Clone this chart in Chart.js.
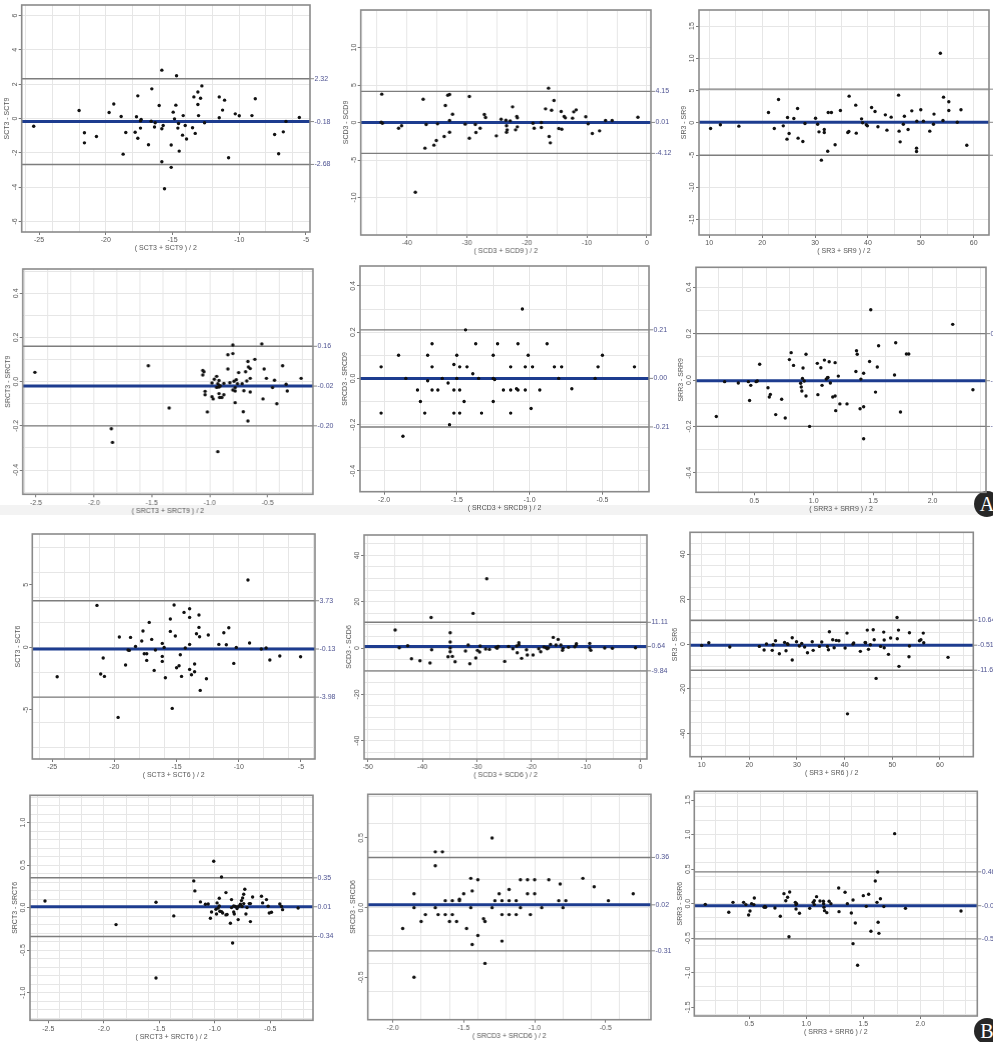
<!DOCTYPE html>
<html>
<head>
<meta charset="utf-8">
<script src="https://cdn.jsdelivr.net/npm/chart.js@4.4.1/dist/chart.umd.min.js"></script>
<style>
  body { margin: 0; background: #fff; width: 993px; height: 1042px; position: relative; overflow: hidden; }
  canvas { position: absolute; }
  .band { position: absolute; left: 0; top: 505px; width: 993px; height: 10px; background: #f3f3f3; }
  .tag { position: absolute; width: 26px; height: 26px; border-radius: 50%; background: #272727; color: #fff;
         font: 20px "Liberation Serif", "DejaVu Serif", serif; text-align: center; line-height: 27px; }
</style>
</head>
<body>
<div class="band"></div>
<div class="tag" style="left:974px;top:491px">A</div>
<div class="tag" style="left:974px;top:1018px">B</div>
<script>
// ---- A: day 3 vs day 9 ----
const sct39Avg = [-25.4,-22.0,-21.6,-21.6,-20.7,-19.75,-19.4,-18.85,-18.7,-18.5,-17.7,-17.8,-17.6,-17.6,-17.4,-17.35,-17.4,-16.8,-16.55,-16.6,-16.35,-16.3,-16.0,-15.8,-15.8,-15.7,-15.8,-15.6,-15.1,-15.1,-14.95,-14.85,-14.75,-14.7,-14.6,-14.55,-14.5,-14.25,-14.2,-14.05,-13.95,-13.5,-13.4,-13.3,-13.1,-13.1,-13.05,-12.9,-12.8,-12.6,-11.5,-11.5,-11.25,-11.1,-10.8,-10.3,-10.0,-9.05,-8.8,-7.35,-7.05,-6.7,-6.5,-5.5];
const sct39Diff = [-0.45,0.47,-0.83,-1.42,-1.05,0.35,0.85,0.12,-2.08,-0.82,0.1,-0.8,1.32,-1.15,-0.14,-0.06,-0.56,-1.53,1.73,-0.16,-0.5,-0.25,0.76,2.82,-0.6,-0.41,-2.52,-4.1,-1.55,-2.85,0.37,-0.02,0.78,2.49,-0.56,-0.29,-1.9,-0.97,0.17,-0.41,-1.2,-0.54,1.26,-0.87,1.55,0.82,0.17,1.18,1.9,-0.25,1.26,0.04,0.49,1.07,-2.29,0.27,0.16,0.17,1.15,-0.93,-2.06,-0.78,-0.17,0.06];
const sct39Limits = [2.32, -0.18, -2.68];

const scd39Avg = [-44.2,-44.3,-44.1,-41.4,-40.9,-38.6,-37.3,-37.0,-36.8,-35.5,-35.1,-34.9,-33.8,-33.6,-33.2,-32.9,-32.9,-32.9,-32.4,-30.3,-29.6,-29.6,-28.6,-28.5,-27.8,-27.1,-26.9,-25.1,-24.3,-23.5,-23.4,-23.4,-23.3,-22.8,-22.4,-21.9,-21.7,-21.6,-21.6,-19.0,-18.8,-17.6,-17.6,-16.9,-16.4,-16.3,-16.1,-15.9,-15.5,-14.7,-14.3,-14.2,-13.8,-13.6,-12.4,-12.2,-11.8,-10.2,-9.8,-9.1,-7.9,-6.9,-5.8,-1.5];
const scd39Diff = [3.78,0.04,-0.09,-0.76,-0.44,-9.29,3.1,-3.42,-0.27,-3.02,-2.4,-0.18,-1.87,2.27,3.64,3.73,0.27,-1.29,1.11,-0.22,3.47,-2.09,-0.27,-1.33,-0.76,1.07,0.67,-1.78,0.44,0.31,-0.44,-1.29,-0.98,0.22,2.09,-0.98,0.8,0.62,-0.58,-0.09,-0.76,0.0,-0.67,1.82,4.58,-1.87,-2.71,1.64,2.93,-0.8,1.47,-0.89,0.8,0.62,0.58,1.42,1.69,0.76,-0.18,-1.47,-1.11,0.27,0.27,0.71];
const scd39Limits = [4.15, 0.01, -4.12];

const sr39Avg = [10.25,12.1,15.6,21.2,22.3,23.1,24.0,24.8,24.7,25.1,26.0,26.7,26.8,27.7,28.1,30.1,30.5,30.75,31.2,31.75,31.75,32.5,32.4,33.1,33.8,34.8,36.2,36.45,36.4,37.7,37.8,38.8,39.0,39.7,39.9,40.7,41.35,41.9,43.3,43.6,44.4,45.8,45.9,46.1,46.7,46.9,47.6,48.3,49.25,49.2,49.2,50.0,50.5,51.7,52.4,52.5,53.7,54.2,54.3,55.3,55.3,56.9,57.6,58.7];
const sr39Diff = [-0.88,-0.31,-0.52,1.6,-0.88,3.62,-0.47,0.83,-2.53,-1.66,0.67,2.22,-2.38,-2.9,-0.1,0.72,-0.21,-1.4,-5.79,-1.03,-1.5,1.6,-4.4,1.6,-3.41,1.91,-1.5,4.14,-1.35,2.74,-1.6,0.62,0.0,-0.31,-0.47,2.38,1.76,-0.62,1.24,-1.14,0.88,4.29,-1.29,-2.95,-0.21,1.03,-1.03,1.86,0.26,-3.93,-4.45,2.02,0.26,-1.29,-0.21,1.35,10.8,0.36,3.98,1.91,3.26,0.1,2.02,-3.47];
const sr39Limits = [5.22, 0.08, -5.03];

const srct39Avg = [-2.51,-1.85,-1.84,-1.53,-1.35,-1.06,-1.05,-1.06,-1.04,-1.04,-1.02,-0.98,-0.98,-0.97,-0.96,-0.94,-0.94,-0.93,-0.93,-0.92,-0.92,-0.92,-0.915,-0.91,-0.915,-0.895,-0.878,-0.878,-0.843,-0.843,-0.826,-0.80,-0.80,-0.80,-0.79,-0.78,-0.78,-0.78,-0.77,-0.76,-0.75,-0.72,-0.71,-0.705,-0.69,-0.68,-0.67,-0.67,-0.665,-0.65,-0.65,-0.65,-0.61,-0.55,-0.54,-0.53,-0.51,-0.457,-0.44,-0.42,-0.37,-0.34,-0.33,-0.21];
const srct39Diff = [0.042,-0.213,-0.275,0.072,-0.119,0.051,0.045,0.030,-0.044,-0.059,-0.137,-0.006,-0.068,-0.078,0.011,-0.026,0.024,-0.317,-0.009,0.005,-0.054,-0.024,-0.018,-0.02,-0.072,-0.072,-0.008,-0.059,0.122,0.057,-0.005,-0.038,0.127,0.166,0.002,-0.042,-0.095,-0.027,0.009,-0.009,0.041,-0.009,-0.136,-0.041,0.045,0.003,0.091,-0.178,0.066,0.015,0.059,-0.047,0.101,0.171,-0.078,0.057,0.015,-0.027,0.006,-0.1,0.072,-0.012,-0.042,0.015];
const srct39Limits = [0.16, -0.02, -0.20];

const srcd39Avg = [-2.02,-2.02,-1.90,-1.87,-1.85,-1.77,-1.75,-1.72,-1.70,-1.70,-1.67,-1.67,-1.67,-1.63,-1.60,-1.56,-1.55,-1.52,-1.52,-1.52,-1.50,-1.50,-1.48,-1.48,-1.48,-1.45,-1.44,-1.43,-1.39,-1.37,-1.35,-1.33,-1.25,-1.25,-1.25,-1.24,-1.22,-1.18,-1.13,-1.13,-1.13,-1.09,-1.08,-1.08,-1.05,-1.03,-1.03,-1.01,-0.99,-0.98,-0.93,-0.88,-0.83,-0.80,-0.78,-0.71,-0.55,-0.53,-0.50,-0.28];
const srcd39Diff = [0.05,-0.15,0.10,-0.25,0.0,-0.05,-0.10,-0.15,0.10,-0.01,0.15,0.05,-0.05,-0.05,0.0,-0.02,-0.20,-0.05,0.06,-0.15,0.10,0.0,0.05,-0.05,-0.15,-0.10,0.21,0.05,0.02,0.15,0.0,-0.15,0.10,-0.10,0.0,-0.005,0.15,-0.05,0.05,-0.05,-0.15,-0.045,-0.05,0.15,0.30,0.05,-0.05,0.10,-0.13,0.05,-0.05,0.15,0.05,0.0,0.05,-0.045,0.0,0.05,0.10,0.05];
const srcd39Limits = [0.21, 0.00, -0.21];

const srr39Avg = [0.18,0.25,0.365,0.45,0.46,0.47,0.515,0.525,0.545,0.615,0.626,0.635,0.68,0.73,0.76,0.795,0.81,0.83,0.89,0.895,0.90,0.905,0.91,0.92,0.935,0.935,0.965,1.03,1.035,1.06,1.07,1.09,1.105,1.115,1.12,1.13,1.14,1.16,1.18,1.18,1.185,1.207,1.22,1.28,1.355,1.36,1.366,1.39,1.397,1.42,1.42,1.42,1.47,1.48,1.52,1.535,1.546,1.68,1.69,1.73,1.78,1.80,2.17,2.34];
const srr39Diff = [-0.157,-0.007,-0.013,-0.007,-0.088,-0.023,-0.007,-0.004,0.068,-0.033,-0.073,-0.062,-0.149,-0.083,-0.164,0.088,0.118,0.063,-0.014,-0.03,-0.047,0.007,0.052,-0.004,0.111,-0.069,-0.2,0.072,-0.063,0.053,-0.023,0.086,0.004,0.01,0.011,0.079,-0.013,-0.073,0.075,-0.069,-0.132,0.017,-0.103,-0.103,0.037,0.126,0.111,-0.124,0.004,0.029,-0.115,-0.253,0.08,0.303,-0.052,0.056,0.148,0.022,0.161,-0.138,0.112,0.112,0.24,-0.042];
const srr39Limits = [0.20, -0.003, -0.20];

// ---- B: day 3 vs day 6 ----
const sct36Avg = [-24.6,-21.4,-21.1,-20.9,-20.8,-19.7,-19.6,-19.1,-18.9,-18.8,-18.7,-18.3,-17.8,-17.7,-17.6,-17.4,-17.4,-17.2,-17.0,-16.8,-16.7,-16.15,-16.15,-16.15,-16.0,-15.9,-15.5,-15.5,-15.35,-15.2,-15.1,-15.0,-14.8,-14.7,-14.6,-14.4,-14.3,-13.95,-13.95,-13.95,-13.95,-13.8,-13.55,-13.55,-13.4,-13.2,-13.2,-13.15,-13.1,-12.6,-12.45,-11.6,-11.2,-11.0,-10.8,-10.4,-10.2,-9.26,-9.13,-8.19,-7.8,-7.5,-6.7,-5.03];
const sct36Diff = [-2.35,3.36,-2.13,-0.85,-2.32,-5.6,0.83,-1.41,-0.21,-0.24,0.8,0.08,0.51,1.31,-0.51,-0.51,-1.04,2.0,0.64,-1.84,-0.21,0.32,-0.72,-1.12,0.0,-2.43,2.27,1.28,-4.88,3.39,0.91,-1.63,-1.47,-0.59,-2.32,2.8,-0.05,3.09,2.4,0.24,-1.76,-2.19,-1.33,-1.95,1.09,2.59,1.6,0.85,-3.44,-2.51,0.99,0.24,1.17,0.21,1.57,-1.28,0.0,5.39,0.35,-0.13,-0.05,-1.01,-0.69,-0.75];
const sct36Limits = [3.73, -0.13, -3.98];

const scd36Avg = [-45.0,-44.25,-42.7,-42.0,-40.45,-38.6,-38.4,-38.3,-35.3,-34.9,-34.9,-34.9,-34.9,-34.5,-34.0,-32.1,-31.6,-31.3,-30.7,-30.2,-29.9,-29.5,-29.4,-28.4,-28.2,-27.7,-26.5,-26.3,-26.1,-24.9,-24.2,-23.4,-22.7,-22.6,-22.3,-22.3,-21.8,-20.9,-20.75,-19.7,-18.65,-18.3,-17.7,-17.3,-17.1,-16.9,-16.5,-16.0,-15.5,-15.1,-14.6,-14.3,-14.2,-13.2,-12.05,-11.8,-11.75,-9.3,-9.3,-9.1,-6.55,-5.14,-0.9];
const scd36Diff = [7.77,0.14,1.0,-4.6,-5.47,-6.47,13.2,-0.72,-3.74,6.62,2.59,0.0,-1.58,-3.6,-5.9,-1.3,1.3,-6.76,14.96,-4.32,-1.0,-1.73,0.86,-0.43,29.9,-0.58,0.29,-0.14,0.72,-5.76,0.72,-0.29,0.86,-2.0,2.3,1.44,-4.46,-0.72,-3.0,-3.0,-0.29,-1.58,0.43,0.14,-0.29,0.0,1.58,4.6,1.3,3.74,1.3,-1.0,-0.14,0.29,0.58,1.3,1.87,2.0,0.0,-1.0,0.0,-0.14,0.14];
const scd36Limits = [11.11, 0.64, -9.84];

const sr36Avg = [10.0,11.5,15.9,22.1,23.1,23.6,24.8,25.0,25.5,26.3,27.4,27.7,28.0,28.1,29.0,29.0,29.9,30.5,31.0,31.6,32.2,33.2,33.4,34.7,35.2,36.4,36.6,36.8,37.5,37.8,38.25,38.8,40.1,40.5,40.6,41.75,41.9,43.3,44.3,44.4,44.75,45.0,45.4,46.0,46.2,46.6,47.55,48.2,48.3,48.3,49.2,49.65,51.0,51.05,51.3,51.4,53.5,53.6,53.6,55.7,56.0,56.5,56.6,61.7];
const sr36Diff = [-0.59,0.59,-1.33,-1.04,-2.67,0.0,-2.81,-0.3,1.48,-4.3,0.74,-2.96,0.15,-0.15,2.81,-7.1,1.04,-0.89,0.3,-1.33,-3.85,1.04,-2.81,-1.04,0.89,-1.04,-2.52,5.48,1.93,-1.63,1.63,1.48,-1.78,4.89,-31.1,0.0,0.44,-3.26,0.74,0.59,6.22,-2.37,-0.3,6.37,1.93,-15.3,-1.04,5.33,-1.63,1.78,-4.6,2.67,11.85,2.37,6.22,-9.93,-5.63,5.04,-0.89,1.48,1.93,4.89,0.59,-5.93];
const sr36Limits = [10.64, -0.51, -11.66];

const srct36Avg = [-2.53,-1.89,-1.53,-1.53,-1.37,-1.19,-1.18,-1.13,-1.085,-1.06,-1.04,-1.03,-1.01,-0.99,-0.985,-0.98,-0.97,-0.96,-0.96,-0.955,-0.94,-0.94,-0.93,-0.9,-0.9,-0.89,-0.86,-0.85,-0.85,-0.84,-0.83,-0.83,-0.825,-0.815,-0.8,-0.79,-0.785,-0.77,-0.76,-0.755,-0.75,-0.74,-0.74,-0.73,-0.72,-0.71,-0.69,-0.68,-0.68,-0.66,-0.58,-0.57,-0.535,-0.52,-0.51,-0.49,-0.415,-0.40,-0.39,-0.25];
const srct36Diff = [0.078,-0.2,0.063,-0.827,-0.098,0.314,0.196,0.067,0.039,0.043,-0.125,-0.051,0.545,-0.02,-0.075,0.055,-0.004,0.02,0.11,-0.043,0.36,-0.047,-0.063,0.176,-0.086,-0.082,-0.184,0.094,0.0,-0.416,0.02,-0.051,-0.075,0.012,-0.012,-0.141,0.016,0.039,0.082,0.012,0.114,0.157,0.047,0.216,-0.075,0.0,0.047,-0.165,0.047,0.125,0.133,0.055,0.094,0.016,-0.063,-0.055,0.043,0.012,-0.024,-0.004];
const srct36Limits = [0.35, 0.01, -0.34];

const srcd36Avg = [-1.93,-1.85,-1.85,-1.85,-1.80,-1.77,-1.70,-1.70,-1.70,-1.68,-1.65,-1.63,-1.63,-1.60,-1.58,-1.58,-1.55,-1.53,-1.53,-1.50,-1.48,-1.45,-1.45,-1.44,-1.44,-1.40,-1.40,-1.36,-1.35,-1.35,-1.30,-1.30,-1.28,-1.25,-1.23,-1.23,-1.23,-1.18,-1.18,-1.18,-1.13,-1.13,-1.10,-1.10,-1.05,-1.05,-1.03,-1.00,-1.00,-0.95,-0.90,-0.83,-0.82,-0.80,-0.78,-0.66,-0.58,-0.48,-0.305];
const srcd36Diff = [-0.15,0.10,0.0,-0.50,-0.10,-0.05,0.40,0.30,0.0,-0.05,0.40,0.05,-0.05,-0.10,0.05,-0.05,-0.10,0.06,0.05,0.10,-0.15,0.0,0.21,0.12,-0.265,0.20,-0.20,-0.08,-0.10,-0.40,0.50,0.0,0.05,0.10,-0.24,0.05,-0.05,0.13,0.05,-0.05,0.05,-0.05,0.20,0.0,0.20,0.10,-0.05,0.20,0.10,0.0,0.20,0.05,0.17,0.0,0.05,0.21,0.15,0.05,0.10];
const srcd36Limits = [0.36, 0.02, -0.31];

const srr36Avg = [0.114,0.32,0.357,0.45,0.47,0.494,0.506,0.52,0.544,0.54,0.63,0.637,0.643,0.725,0.772,0.804,0.82,0.836,0.854,0.848,0.904,0.91,0.91,0.915,0.94,1.03,1.06,1.07,1.07,1.09,1.12,1.15,1.152,1.155,1.16,1.18,1.2,1.216,1.284,1.287,1.34,1.36,1.395,1.41,1.41,1.43,1.45,1.5,1.526,1.547,1.567,1.605,1.62,1.626,1.63,1.637,1.65,1.68,1.775,1.87,2.357];
const srr36Diff = [-0.01,-0.125,0.019,0.019,-0.014,-0.164,-0.106,0.0,0.082,-0.014,-0.053,-0.039,-0.053,-0.063,-0.183,0.145,0.043,0.092,0.169,-0.478,0.019,-0.014,-0.077,0.0,-0.14,-0.068,0.019,0.043,-0.014,0.101,0.039,0.034,0.0,-0.053,-0.101,-0.13,0.034,0.0,0.227,-0.116,0.164,0.0,-0.135,0.053,-0.579,-0.28,-0.892,0.116,-0.039,0.135,-0.4,0.328,0.019,0.458,-0.27,-0.43,0.072,-0.043,1.013,-0.068,-0.106];
const srr36Limits = [0.46, -0.03, -0.51];

// tick labels
const ticksCT = ['-25', '-20', '-15', '-10', '-5'];
const ticksCD = ['-40', '-30', '-20', '-10', '0'];
const ticksCD6 = ['-50', '-40', '-30', '-20', '-10', '0'];
const ticksR = ['10', '20', '30', '40', '50', '60'];
const ticksRCT = ['-2.5', '-2.0', '-1.5', '-1.0', '-0.5'];
const ticksRCD = ['-2.0', '-1.5', '-1.0', '-0.5'];
const ticksRR = ['0.5', '1.0', '1.5', '2.0'];
const yTicksA1 = ['-6', '-4', '-2', '0', '2', '4', '6'];
const yTicksA2 = ['-10', '-5', '0', '5', '10'];
const yTicksA3 = ['-15', '-10', '-5', '0', '5', '10', '15'];
const yTicksSmall = ['-0.4', '-0.2', '0.0', '0.2', '0.4'];
const yTicksB1 = ['-5', '0', '5'];
const yTicksB40 = ['-40', '-20', '0', '20', '40'];
const yTicksB4 = ['-1.0', '-0.5', '0.0', '0.5', '1.0'];
const yTicksB5 = ['-0.5', '0.0', '0.5'];
const yTicksB6 = ['-1.5', '-1.0', '-0.5', '0.0', '0.5', '1.0', '1.5'];

const panels = [
  { avg: sct39Avg, diff: sct39Diff, lim: sct39Limits, xr: [-26.3, -4.7], yr: [-6.62, 6.62], xt: ticksCT, yt: yTicksA1, gx: 2, gy: 2, xTitle: '( SCT3 + SCT9 ) / 2', yTitle: 'SCT3 - SCT9', area: [21.7, 5, 310, 232] },
  { avg: scd39Avg, diff: scd39Diff, lim: scd39Limits, xr: [-47.7, 0.67], yr: [-15, 15], xt: ticksCD, yt: yTicksA2, gx: 5, gy: 5, xTitle: '( SCD3 + SCD9 ) / 2', yTitle: 'SCD3 - SCD9', area: [360.7, 10, 650.7, 235] },
  { avg: sr39Avg, diff: sr39Diff, lim: sr39Limits, xr: [8.06, 62.9], yr: [-17.4, 17.5], xt: ticksR, yt: yTicksA3, gx: 5, gy: 5, xTitle: '( SR3 + SR9 ) / 2', yTitle: 'SR3 - SR9', area: [699, 10, 990.7, 235] },
  { avg: srct39Avg, diff: srct39Diff, lim: srct39Limits, xr: [-2.615, -0.108], yr: [-0.51, 0.51], xt: ticksRCT, yt: yTicksSmall, gx: 0.2, gy: 0.1, xTitle: '( SRCT3 + SRCT9 ) / 2', yTitle: 'SRCT3 - SRCT9', area: [22.7, 269, 312.7, 494.3] },
  { avg: srcd39Avg, diff: srcd39Diff, lim: srcd39Limits, xr: [-2.165, -0.18], yr: [-0.49, 0.486], xt: ticksRCD, yt: yTicksSmall, gx: 0.25, gy: 0.1, xTitle: '( SRCD3 + SRCD9 ) / 2', yTitle: 'SRCD3 - SRCD9', area: [360, 266, 649.3, 491.7] },
  { avg: srr39Avg, diff: srr39Diff, lim: srr39Limits, xr: [0.009, 2.45], yr: [-0.484, 0.486], xt: ticksRR, yt: yTicksSmall, gx: 0.2, gy: 0.1, xTitle: '( SRR3 + SRR9 ) / 2', yTitle: 'SRR3 - SRR9', area: [696, 267.3, 986, 492.3] },
  { avg: sct36Avg, diff: sct36Diff, lim: sct36Limits, xr: [-26.6, -3.87], yr: [-8.93, 9.07], xt: ticksCT, yt: yTicksB1, gx: 2, gy: 2, xTitle: '( SCT3 + SCT6 ) / 2', yTitle: 'SCT3 - SCT6', area: [32.3, 534, 315, 759] },
  { avg: scd36Avg, diff: scd36Diff, lim: scd36Limits, xr: [-50.7, 1.2], yr: [-47.9, 48.8], xt: ticksCD6, yt: yTicksB40, gx: 5, gy: 5, xTitle: '( SCD3 + SCD6 ) / 2', yTitle: 'SCD3 - SCD6', area: [364, 535, 646.7, 759] },
  { avg: sr36Avg, diff: sr36Diff, lim: sr36Limits, xr: [7.55, 67.0], yr: [-50.2, 49.8], xt: ticksR, yt: yTicksB40, gx: 5, gy: 5, xTitle: '( SR3 + SR6 ) / 2', yTitle: 'SR3 - SR6', area: [690, 532.3, 973.3, 756.7] },
  { avg: srct36Avg, diff: srct36Diff, lim: srct36Limits, xr: [-2.665, -0.116], yr: [-1.325, 1.32], xt: ticksRCT, yt: yTicksB4, gx: 0.2, gy: 0.1, xTitle: '( SRCT3 + SRCT6 ) / 2', yTitle: 'SRCT3 - SRCT6', area: [30, 795.3, 313.3, 1020.3] },
  { avg: srcd36Avg, diff: srcd36Diff, lim: srcd36Limits, xr: [-2.176, -0.18], yr: [-0.804, 0.813], xt: ticksRCD, yt: yTicksB5, gx: 0.2, gy: 0.2, xTitle: '( SRCD3 + SRCD6 ) / 2', yTitle: 'SRCD3 - SRCD6', area: [367.7, 794.3, 650.7, 1019.7] },
  { avg: srr36Avg, diff: srr36Diff, lim: srr36Limits, xr: [0.0175, 2.5], yr: [-1.626, 1.626], xt: ticksRR, yt: yTicksB6, gx: 0.2, gy: 0.2, xTitle: '( SRR3 + SRR6 ) / 2', yTitle: 'SRR3 - SRR6', area: [694.3, 791.3, 977.3, 1016] }
];

const FONT = '"Liberation Sans", Arial, sans-serif';
Chart.defaults.font.family = FONT;
Chart.defaults.font.size = 7;
Chart.defaults.color = '#555';
const LH = 7 * 1.2;
const colLefts = [0, 330, 660];
const rowTops = [0, 255, 508, 764];

// frame, rotated y tick labels and limit labels on the right
function decor(p) {
  return {
    id: 'decor',
    afterDraw(chart) {
      const { ctx, chartArea: a } = chart;
      const ys = chart.scales.y;
      ctx.save();
      ctx.strokeStyle = '#8a8a8a';
      ctx.lineWidth = 1.6;
      ctx.strokeRect(a.left, a.top, a.right - a.left, a.bottom - a.top);

      ctx.font = '7px ' + FONT;
      ctx.fillStyle = '#555';
      ctx.textAlign = 'center';
      ctx.textBaseline = 'middle';
      p.yt.forEach(t => {
        ctx.save();
        ctx.translate(a.left - 6.5, ys.getPixelForValue(Number(t)));
        ctx.rotate(-Math.PI / 2);
        ctx.fillText(t, 0, 0);
        ctx.restore();
      });

      ctx.textAlign = 'left';
      ctx.fillStyle = '#4d5291';
      ctx.strokeStyle = '#888';
      ctx.lineWidth = 1;
      p.lim.forEach(v => {
        const y = ys.getPixelForValue(v);
        ctx.beginPath();
        ctx.moveTo(a.right, y);
        ctx.lineTo(a.right + 4, y);
        ctx.stroke();
        ctx.fillText(v.toFixed(2), a.right + 4.5, y);
      });
      ctx.restore();
    }
  };
}

function gridTicks(step) {
  return s => {
    const t = [];
    for (let k = Math.ceil(s.min / step - 1e-9); k * step <= s.max + 1e-9; k++) t.push({ value: k * step });
    s.ticks = t;
  };
}

panels.forEach((p, i) => {
  const [l, t, r, b] = p.area;
  const colLeft = colLefts[i % 3];
  const rowTop = rowTops[Math.floor(i / 3)];
  const xTitleY = b + 16.5;
  const yTitleX = l - 14.5;
  const cw = Math.min(993, r + 34) - colLeft;
  const ch = Math.ceil(xTitleY + LH / 2 + 1) - rowTop;

  const canvas = document.createElement('canvas');
  canvas.width = cw;
  canvas.height = ch;
  canvas.style.left = colLeft + 'px';
  canvas.style.top = rowTop + 'px';
  canvas.style.width = cw + 'px';
  canvas.style.height = ch + 'px';
  document.body.appendChild(canvas);

  const yAxisW = l - (yTitleX - LH / 2);
  const xAxisH = xTitleY + LH / 2 - b;

  new Chart(canvas, {
    type: 'scatter',
    data: {
      datasets: [
        {
          data: p.avg.map((v, k) => ({ x: v, y: p.diff[k] })),
          pointRadius: 1.7, pointBorderWidth: 0, pointBackgroundColor: '#111', order: 0
        },
        {
          data: [{ x: p.xr[0], y: p.lim[1] }, { x: p.xr[1], y: p.lim[1] }],
          showLine: true, borderColor: '#1d3c8f', borderWidth: 3, pointRadius: 0, order: 1
        },
        {
          data: [{ x: p.xr[0], y: p.lim[0] }, { x: p.xr[1], y: p.lim[0] }],
          showLine: true, borderColor: '#7d7d7d', borderWidth: 1.4, pointRadius: 0, order: 2
        },
        {
          data: [{ x: p.xr[0], y: p.lim[2] }, { x: p.xr[1], y: p.lim[2] }],
          showLine: true, borderColor: '#7d7d7d', borderWidth: 1.4, pointRadius: 0, order: 2
        }
      ]
    },
    options: {
      responsive: false,
      animation: false,
      events: [],
      layout: {
        padding: {
          left: (yTitleX - LH / 2) - colLeft,
          top: t - rowTop,
          right: colLeft + cw - r,
          bottom: rowTop + ch - (xTitleY + LH / 2)
        }
      },
      plugins: { legend: { display: false }, tooltip: { enabled: false } },
      scales: {
        xl: {
          type: 'linear', position: 'bottom', min: p.xr[0], max: p.xr[1],
          afterBuildTicks: s => { s.ticks = p.xt.map(v => ({ value: Number(v) })); },
          ticks: { callback: (v, k) => p.xt[k], padding: 1.3, maxRotation: 0, autoSkip: false, color: '#555' },
          grid: { drawOnChartArea: false, tickLength: 3, tickColor: '#777' },
          border: { display: false },
          title: { display: true, text: p.xTitle, padding: 0, color: '#555' },
          afterFit: s => { s.height = xAxisH; }
        },
        yl: {
          type: 'linear', position: 'left', min: p.yr[0], max: p.yr[1],
          afterBuildTicks: s => { s.ticks = p.yt.map(v => ({ value: Number(v) })); },
          ticks: { display: false },
          grid: { drawOnChartArea: false, tickLength: 3, tickColor: '#777' },
          border: { display: false },
          title: { display: true, text: p.yTitle, padding: 0, color: '#555' },
          afterFit: s => { s.width = yAxisW; }
        },
        x: {
          type: 'linear', position: 'bottom', min: p.xr[0], max: p.xr[1],
          afterBuildTicks: gridTicks(p.gx),
          ticks: { display: false },
          grid: { color: '#e6e6e6', drawTicks: false },
          border: { display: false },
          afterFit: s => { s.height = 0; }
        },
        y: {
          type: 'linear', position: 'left', min: p.yr[0], max: p.yr[1],
          afterBuildTicks: gridTicks(p.gy),
          ticks: { display: false },
          grid: { color: '#e6e6e6', drawTicks: false },
          border: { display: false },
          afterFit: s => { s.width = 0; }
        }
      }
    },
    plugins: [decor(p)]
  });
});
</script>
</body>
</html>
